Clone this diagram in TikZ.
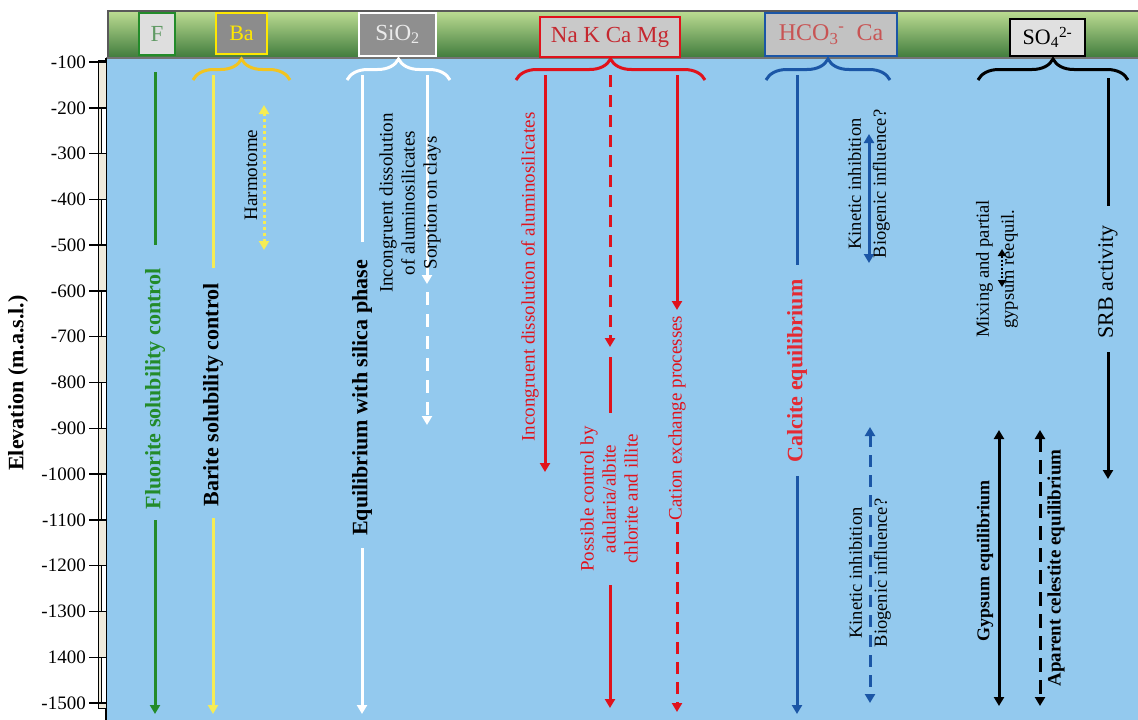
\documentclass[tikz,border=0pt]{standalone}
\usepackage{fontspec}
\setmainfont{Liberation Serif}
\usetikzlibrary{arrows.meta,decorations.pathreplacing}
\definecolor{skyb}{HTML}{93C9EE}
\definecolor{gtop}{HTML}{BCDC92}
\definecolor{gmid}{HTML}{86BE72}
\definecolor{gbot}{HTML}{427D3E}
\definecolor{fgreen}{HTML}{238B2A}
\definecolor{byellow}{HTML}{F5EC55}
\definecolor{brorange}{HTML}{F2C420}
\definecolor{nred}{HTML}{E0121C}
\definecolor{cblue}{HTML}{1B56A6}
\definecolor{beige}{HTML}{EEEADC}
\definecolor{hcotext}{HTML}{C85454}
\tikzset{
  ln/.style={line width=3pt},
  tipd/.style={-{Triangle[width=10pt,length=9pt]}},
  dtip/.style={{Triangle[width=10pt,length=9pt]}-{Triangle[width=10pt,length=9pt]}},
  vlab/.style={rotate=90, font=\fontsize{19}{23}\selectfont, align=center, inner sep=0pt},
  blab/.style={rotate=90, font=\fontsize{22}{25}\selectfont\bfseries, inner sep=0pt},
  brc/.style={decorate, decoration={brace, amplitude=21pt}, line width=3pt},
  hbox/.style={draw, line width=2.2pt, inner sep=0pt, font=\fontsize{23}{25}\selectfont},
  ticklab/.style={font=\fontsize{19}{20}\selectfont, anchor=east, inner sep=0pt},
  dsh/.style={dash pattern=on 12pt off 8pt},
}
\begin{document}
\begin{tikzpicture}[x=1pt,y=-1pt]
\useasboundingbox (0,0) rectangle (1138,720);
% background areas
\fill[white] (0,0) rectangle (1138,720);
\fill[skyb] (106,58) rectangle (1138,720);
\shade[top color=gtop, middle color=gmid, bottom color=gbot] (108,11) rectangle (1138,57);
\draw[black!65, line width=1.4pt] (108,57) -- (108,11) -- (1138,11);
\draw[black!55, line width=1.4pt] (106,58) -- (1138,58);
\draw[black, line width=1.2pt] (106,58) -- (106,720);
% axis strip
\fill[beige] (98,60) rectangle (106,708);
\foreach \i in {1,3,5,7,9,11,13} {
  \filldraw[fill=white, draw=black, line width=0.8pt] (101,{62+45.79*\i}) rectangle (106,{62+45.79*(\i+1)});
}
\draw[black, line width=0.8pt] (98,60) rectangle (106,708);
\foreach \k/\lab in {0/-100,1/-200,2/-300,3/-400,4/-500,5/-600,6/-700,7/-800,8/-900,9/-1000,10/-1100,11/-1200,12/-1300,13/1400,14/-1500} {
  \draw[black, line width=1.5pt] (89,{62+45.79*\k}) -- (106,{62+45.79*\k});
  \node[ticklab] (t\k) at (86,{62+45.79*\k}) {\lab};
}
\node[rotate=90, font=\fontsize{22}{25}\selectfont\bfseries, inner sep=0pt] (ylab) at (18,383) {Elevation (m.a.s.l.)};
% header boxes
\node[hbox, draw=fgreen, fill=black!13, text=fgreen!80!black!70, minimum width=36pt, minimum height=42pt] (hF) at (157,34) {F};
\node[hbox, draw=yellow!90!orange, fill=black!45, text=yellow!90!orange, minimum width=51pt, minimum height=41pt, font=\fontsize{22}{24}\selectfont] (hBa) at (241.5,33.5) {Ba};
\node[hbox, draw=white, fill=black!44, text=white!92!black, minimum width=77pt, minimum height=43pt] (hSi) at (397.5,34.5) {SiO\textsubscript{2}};
\node[hbox, draw=nred, fill=black!21, text=nred!85!black!90, minimum width=140pt, minimum height=40pt] (hNa) at (610,37) {Na K Ca Mg};
\node[hbox, draw=cblue, fill=black!24, text=hcotext, minimum width=132pt, minimum height=43pt, font=\fontsize{24}{26}\selectfont] (hHC) at (831,34.5) {HCO\textsubscript{3}\textsuperscript{-}\ \ Ca};
\node[hbox, draw=black, fill=black!12, text=black, minimum width=75pt, minimum height=37pt, font=\fontsize{22}{24}\selectfont] (hSO) at (1047.5,37.5) {SO\textsubscript{4}\textsuperscript{2-}};
% braces
\coordinate (bBa1) at (193,80); \coordinate (bBa2) at (290,80);
\coordinate (bSi1) at (347,80); \coordinate (bSi2) at (450,80);
\coordinate (bNa1) at (516,80); \coordinate (bNa2) at (705,80);
\coordinate (bHC1) at (766,80); \coordinate (bHC2) at (890,80);
\coordinate (bSO1) at (978,80); \coordinate (bSO2) at (1128,80);
\draw[brc, brorange] (bBa1) -- (bBa2);
\draw[brc, white] (bSi1) -- (bSi2);
\draw[brc, nred] (bNa1) -- (bNa2);
\draw[brc, cblue] (bHC1) -- (bHC2);
\draw[brc, black] (bSO1) -- (bSO2);
% ---- F column
\coordinate (F0) at (155,72); \coordinate (F1) at (155,245);
\coordinate (F2) at (155,520); \coordinate (F3) at (155,714);
\node[blab, text=fgreen] (Flab) at (155,389) {Fluorite solubility control};
\draw[ln, fgreen] (F0) -- (F1);
\draw[ln, fgreen, tipd] (F2) -- (F3);
% ---- Ba column
\coordinate (B0) at (213,75); \coordinate (B1) at (213,268);
\coordinate (B2) at (213,518); \coordinate (B3) at (213,714);
\node[blab] (Blab) at (213,395) {Barite solubility control};
\draw[ln, byellow] (B0) -- (B1);
\draw[ln, byellow, tipd] (B2) -- (B3);
\coordinate (H0) at (264,105); \coordinate (H1) at (264,250);
\draw[line width=3pt, byellow, dash pattern=on 3pt off 3pt, dtip] (H0) -- (H1);
\node[vlab] (Hlab) at (251,175) {Harmotome};
% ---- SiO2 column
\coordinate (S0) at (362,75); \coordinate (S1) at (362,242);
\coordinate (S2) at (362,548); \coordinate (S3) at (362,714);
\node[blab] (Slab) at (362,398) {Equilibrium with silica phase};
\draw[ln, white] (S0) -- (S1);
\draw[ln, white, tipd] (S2) -- (S3);
\coordinate (S4) at (427,75); \coordinate (S5) at (427,284);
\coordinate (S6) at (427,292); \coordinate (S7) at (427,425);
\draw[ln, white, tipd] (S4) -- (S5);
\draw[ln, white, tipd, dash pattern=on 13pt off 9pt] (S6) -- (S7);
\node[vlab, font=\fontsize{19}{22}\selectfont] (Ilab) at (410,203) {Incongruent dissolution\\of aluminosilicates\\Sorption on clays};
% ---- Na K Ca Mg column
\coordinate (N0) at (545,75); \coordinate (N1) at (545,472);
\draw[ln, nred, tipd] (N0) -- (N1);
\node[vlab, text=nred] (N0lab) at (530,277) {Incongruent dissolution of aluminosilicates};
\coordinate (N2) at (610,75); \coordinate (N3) at (610,347);
\coordinate (N4) at (610,357); \coordinate (N5) at (610,413);
\coordinate (N6) at (610,585); \coordinate (N7) at (610,708);
\draw[ln, nred, tipd, dsh] (N2) -- (N3);
\draw[ln, nred] (N4) -- (N5);
\node[vlab, text=nred, font=\fontsize{19}{22}\selectfont] (Nlab) at (609,499) {Possible control by\\adularia/albite\\chlorite and illite};
\draw[ln, nred, tipd] (N6) -- (N7);
\coordinate (C0) at (677,75); \coordinate (C1) at (677,310);
\coordinate (C2) at (677,522); \coordinate (C3) at (677,712);
\draw[ln, nred, tipd] (C0) -- (C1);
\node[vlab, text=nred] (Clab) at (677,418) {Cation exchange processes};
\draw[ln, nred, tipd, dsh] (C2) -- (C3);
% ---- HCO3 column
\coordinate (K0) at (797,75); \coordinate (K1) at (797,265);
\coordinate (K2) at (797,476); \coordinate (K3) at (797,714);
\draw[ln, cblue] (K0) -- (K1);
\node[blab, text=nred!90!white] (Klab) at (797,371) {Calcite equilibrium};
\draw[ln, cblue, tipd] (K2) -- (K3);
\coordinate (KA0) at (869,134); \coordinate (KA1) at (869,263);
\draw[ln, cblue, dtip] (KA0) -- (KA1);
\node[vlab, font=\fontsize{18.5}{25}\selectfont] (KAlab) at (869,184) {Kinetic inhibition\\Biogenic influence?};
\coordinate (KB0) at (870,427); \coordinate (KB1) at (870,703);
\draw[ln, cblue, dtip, dsh] (KB0) -- (KB1);
\node[vlab, font=\fontsize{18.5}{25}\selectfont] (KBlab) at (870,573) {Kinetic inhibition\\Biogenic influence?};
% ---- SO4 column
\node[vlab, font=\fontsize{18.5}{25}\selectfont] (Mlab) at (997,269) {Mixing and partial\\gypsum reequil.};
\coordinate (M0) at (1002,249); \coordinate (M1) at (1002,287);
\draw[line width=2.4pt, black, dash pattern=on 2pt off 2pt, {Triangle[width=8pt,length=7pt]}-{Triangle[width=8pt,length=7pt]}] (M0) -- (M1);
\coordinate (R0) at (1108,78); \coordinate (R1) at (1108,206);
\coordinate (R2) at (1108,352); \coordinate (R3) at (1108,479);
\draw[ln, black] (R0) -- (R1);
\node[vlab, font=\fontsize{22}{24}\selectfont] (Rlab) at (1108,282) {SRB activity};
\draw[ln, black, tipd] (R2) -- (R3);
\coordinate (G0) at (999,430); \coordinate (G1) at (999,706);
\draw[ln, black, dtip] (G0) -- (G1);
\node[blab, font=\fontsize{18}{20}\selectfont\bfseries] (Glab) at (985,561) {Gypsum equilibrium};
\coordinate (A0) at (1040,430); \coordinate (A1) at (1040,706);
\draw[ln, black, dtip, dash pattern=on 14pt off 8pt] (A0) -- (A1);
\node[blab, font=\fontsize{19}{21}\selectfont\bfseries] (Alab) at (1056,568) {Aparent celestite equilibrium};
\end{tikzpicture}
\end{document}
